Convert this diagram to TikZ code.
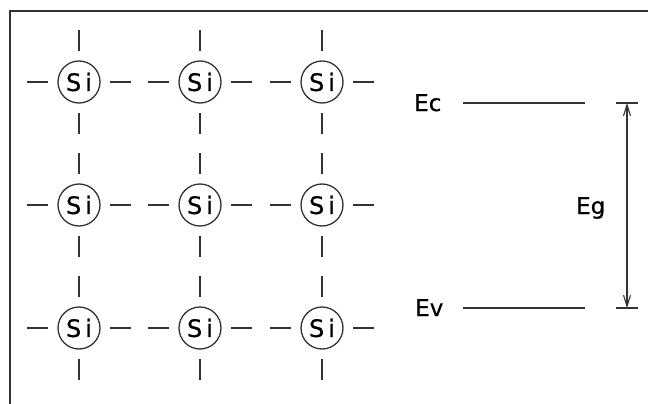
\documentclass[tikz,border=0pt]{standalone}
\usepackage{fontspec}
\setmainfont{DejaVu Sans}
\newfontfamily\plotfont[FakeBold=0.6]{DejaVu Sans}
\usetikzlibrary{arrows.meta,calc}
\begin{document}
\begin{tikzpicture}[x=1pt,y=-1pt,
  bond/.style={draw=black!80,line width=1.4pt},
  frameline/.style={draw=black!80,line width=2pt},
  atom/.style={circle,draw=black!80,line width=1.3pt,minimum size=42pt,inner sep=0pt,
    font=\plotfont\fontsize{24}{24}\selectfont},
  lbl/.style={font=\plotfont\fontsize{23}{23}\selectfont,inner sep=0pt},
  level/.style={draw=black!80,line width=1.3pt},
  gap/.style={draw=black!80,line width=1.1pt,
    {Straight Barb[length=11pt,width=7pt]}-{Straight Barb[length=11pt,width=7pt]}}]
  \useasboundingbox (0,0) rectangle (648,404);
  % frame (top and left edges only)
  \draw[frameline] (648,11) -- (10,11) -- (10,404);
  % silicon lattice
  \foreach \c/\x in {1/79,2/200,3/322}{
    \foreach \r/\y in {1/82,2/205,3/328}{
      \node[atom] (si\c\r) at (\x,\y) {S\hspace{4pt}i};
      \draw[bond] ($(si\c\r)+(-52,0)$) -- ($(si\c\r)+(-31,0)$);
      \draw[bond] ($(si\c\r)+(31,0)$) -- ($(si\c\r)+(52,0)$);
      \draw[bond] ($(si\c\r)+(0,-52)$) -- ($(si\c\r)+(0,-31)$);
      \draw[bond] ($(si\c\r)+(0,31)$) -- ($(si\c\r)+(0,52)$);
    }
  }
  % band edges
  \node[lbl,anchor=base west] (Ec) at (414,111) {Ec};
  \node[lbl,anchor=base west] (Ev) at (415,316) {Ev};
  \node[lbl,anchor=base west] (Eg) at (576,214) {Eg};
  \coordinate (ca) at (463,103);
  \coordinate (cb) at (585,103);
  \coordinate (va) at (463,308);
  \coordinate (vb) at (585,308);
  \coordinate (ta) at (616,103);
  \coordinate (tb) at (638,103);
  \coordinate (ba) at (616,308);
  \coordinate (bb) at (638,308);
  \coordinate (top) at (627,103);
  \coordinate (bot) at (627,308);
  \draw[level] (ca) -- (cb);
  \draw[level] (va) -- (vb);
  \draw[level] (ta) -- (tb);
  \draw[level] (ba) -- (bb);
  \draw[gap] (top) -- (bot);
\end{tikzpicture}
\end{document}
